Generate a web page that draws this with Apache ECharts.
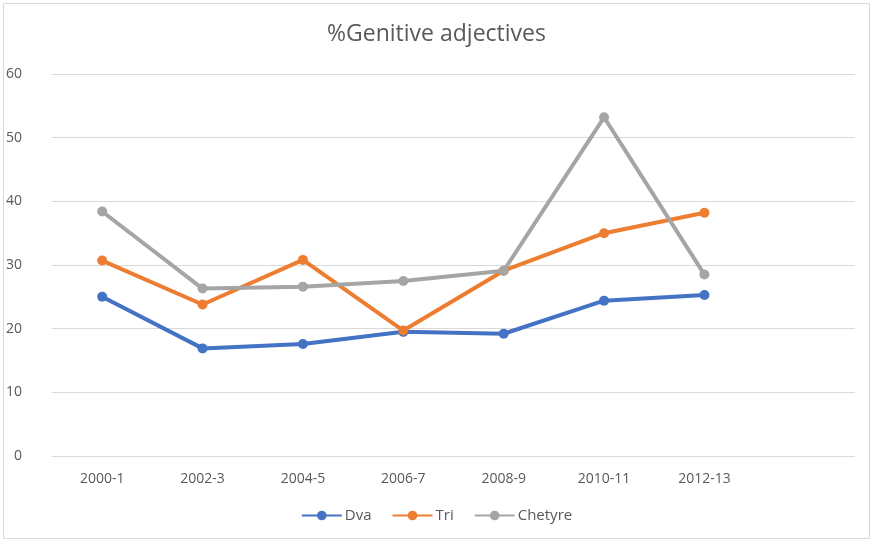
<!DOCTYPE html>
<html>
<head>
<meta charset="utf-8">
<script src="https://cdn.jsdelivr.net/npm/echarts@6/dist/echarts.min.js"></script>
<style>
  html, body { margin: 0; padding: 0; background: #fff; }
  #chart { width: 873px; height: 542px; }
</style>
</head>
<body>
<div id="chart"></div>
<script>
// Periods on the x axis (the last slot is left blank)
const periods = ['2000-1', '2002-3', '2004-5', '2006-7', '2008-9', '2010-11', '2012-13', ''];
// Share of genitive adjectives, per series
const dva = [25.0, 16.9, 17.6, 19.5, 19.2, 24.4, 25.3];
const tri = [30.7, 23.8, 30.8, 19.7, 29.1, 35.0, 38.2];
const chetyre = [38.4, 26.3, 26.6, 27.5, 29.1, 53.2, 28.5];
const yTicks = { min: 0, max: 60, interval: 10 };

const FONT = '"Open Sans", "DejaVu Sans", sans-serif';
const chart = echarts.init(document.getElementById('chart'), null, { renderer: 'canvas' });

function lineSeries(name, data, color) {
  return {
    name, type: 'line', data,
    symbol: 'circle', symbolSize: 10,
    lineStyle: { width: 4, color },
    itemStyle: { color },
    z: 2
  };
}

chart.setOption({
  animation: false,
  textStyle: { fontFamily: FONT },
  title: {
    text: '%Genitive adjectives',
    left: 'center', top: 18,
    textStyle: { fontFamily: FONT, fontSize: 23, fontWeight: 'normal', color: '#595959' }
  },
  graphic: [{
    type: 'rect',
    shape: { x: 3.5, y: 3.5, width: 866, height: 535 },
    style: { fill: 'none', stroke: '#d9d9d9', lineWidth: 1 },
    silent: true
  }],
  grid: { left: 52, right: 18, top: 74, bottom: 86 },
  xAxis: {
    type: 'category',
    data: periods,
    boundaryGap: true,
    axisLine: { show: false },
    axisTick: { show: false },
    axisLabel: { color: '#595959', fontSize: 14, margin: 16, fontFamily: FONT }
  },
  yAxis: {
    type: 'value',
    min: yTicks.min, max: yTicks.max, interval: yTicks.interval,
    axisLine: { show: false },
    axisTick: { show: false },
    axisLabel: { color: '#595959', fontSize: 14, margin: 30, fontFamily: FONT },
    splitLine: { lineStyle: { color: '#d9d9d9', width: 1 } }
  },
  legend: {
    bottom: 14, left: 'center',
    itemWidth: 40, itemHeight: 12, itemGap: 20,
    textStyle: { color: '#595959', fontSize: 15, fontFamily: FONT, padding: [0, 0, 0, -2] },
    data: ['Dva', 'Tri', 'Chetyre']
  },
  series: [
    lineSeries('Dva', dva, '#4472C4'),
    lineSeries('Tri', tri, '#ED7D31'),
    lineSeries('Chetyre', chetyre, '#A5A5A5')
  ]
});
</script>
</body>
</html>
